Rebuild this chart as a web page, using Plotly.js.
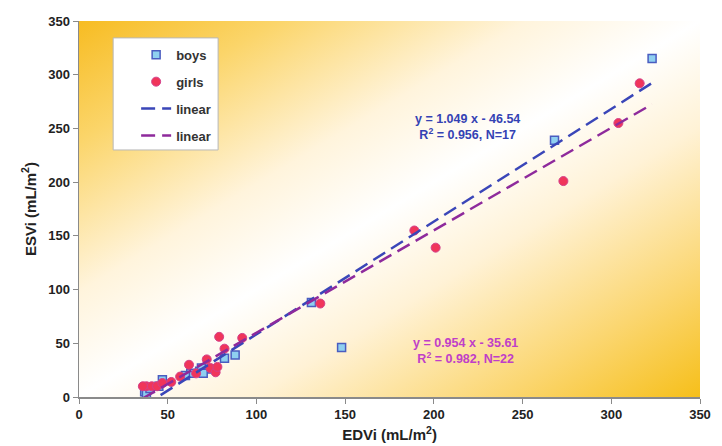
<!DOCTYPE html>
<html>
<head>
<meta charset="utf-8">
<script src="https://cdn.plot.ly/plotly-3.0.1.min.js"></script>
<style>
  html, body { margin: 0; padding: 0; background: #ffffff; }
  #chart { width: 722px; height: 446px; }
</style>
</head>
<body>
<div id="chart"></div>
<script>
// End-diastolic vs end-systolic volume index, boys and girls
const boysEDVi = [323, 268, 148, 131, 88, 82, 47, 37, 38, 40, 68, 69, 70, 63, 75, 60, 45];
const boysESVi = [315, 239, 46, 88, 39, 36, 16, 5, 3, 8, 24, 27, 22, 22, 26, 20, 10];

const girlsEDVi = [316, 304, 273, 201, 189, 136, 92, 79, 82, 38, 41, 44, 47, 52, 57, 62, 72, 74, 77, 78, 66, 36];
const girlsESVi = [292, 255, 201, 139, 155, 87, 55, 56, 45, 10, 10, 10, 13, 14, 19, 30, 35, 27, 23, 28, 22, 10];

// Linear fits: [slope, intercept, R², N]
const boysFit = [1.049, -46.54, 0.956, 17];
const girlsFit = [0.954, -35.61, 0.982, 22];

const axisTicks = [0, 50, 100, 150, 200, 250, 300, 350];

// Fitted lines span the observed EDVi range
const allX = boysEDVi.concat(girlsEDVi);
const xMin = Math.min(...allX);
const xMax = Math.max(...allX);
function fitLine(fit) {
  const xs = [xMin, xMax];
  return { x: xs, y: xs.map(v => fit[0] * v + fit[1]) };
}
const boysLine = fitLine(boysFit);
const girlsLine = fitLine(girlsFit);

function fmtEq(fit) {
  const sign = fit[1] < 0 ? '-' : '+';
  return 'y = ' + fit[0].toFixed(3) + ' x ' + sign + ' ' + Math.abs(fit[1]).toFixed(2) +
         '<br>R<sup>2</sup> = ' + fit[2].toFixed(3) + ', N=' + fit[3];
}

const BLUE = '#3a46b8';
const PURPLE = '#8e2a9c';

const traces = [
  {
    type: 'scatter', mode: 'markers', name: 'boys', legendgroup: 'a',
    x: boysEDVi, y: boysESVi,
    marker: { symbol: 'square', size: 8, color: '#8fd0f0', line: { color: '#4a5cc0', width: 1.5 } },
    cliponaxis: false
  },
  {
    type: 'scatter', mode: 'markers', name: 'girls', legendgroup: 'b',
    x: girlsEDVi, y: girlsESVi,
    marker: { symbol: 'circle', size: 9, color: '#f0355a', line: { color: '#d4408a', width: 1 } },
    cliponaxis: false
  },
  {
    type: 'scatter', mode: 'lines', name: 'linear', legendgroup: 'c',
    x: boysLine.x, y: boysLine.y,
    line: { color: BLUE, width: 2.5, dash: '14px,7px' }
  },
  {
    type: 'scatter', mode: 'lines', name: 'linear', legendgroup: 'd',
    x: girlsLine.x, y: girlsLine.y,
    line: { color: PURPLE, width: 2.5, dash: '14px,7px' }
  }
];

// Diagonal gold-white-gold backdrop for the plotting area
const bgSvg =
  '<svg xmlns="http://www.w3.org/2000/svg" width="621" height="376" viewBox="0 0 100 100" preserveAspectRatio="none">' +
  '<defs><linearGradient id="g" x1="0" y1="0" x2="1" y2="1">' +
  '<stop offset="0" stop-color="#f7bc22"/>' +
  '<stop offset="0.16" stop-color="#fbd56a"/>' +
  '<stop offset="0.36" stop-color="#fff4dc"/>' +
  '<stop offset="0.5" stop-color="#ffffff"/>' +
  '<stop offset="0.64" stop-color="#fff2d6"/>' +
  '<stop offset="0.84" stop-color="#fbd670"/>' +
  '<stop offset="1" stop-color="#f6bf1a"/>' +
  '</linearGradient></defs>' +
  '<rect x="0" y="0" width="100" height="100" fill="url(#g)"/></svg>';
const bgSrc = 'data:image/svg+xml;charset=utf-8,' + encodeURIComponent(bgSvg);

const axisFont = { family: 'Liberation Sans, Arial, sans-serif', size: 13, color: '#222222', weight: 'bold' };
const titleFont = { family: 'Liberation Sans, Arial, sans-serif', size: 15, color: '#222222', weight: 'bold' };

const layout = {
  width: 722, height: 446,
  margin: { l: 79, r: 22, t: 21, b: 49, pad: 0 },
  paper_bgcolor: '#ffffff',
  plot_bgcolor: 'rgba(0,0,0,0)',
  showlegend: true,
  xaxis: {
    range: [0, 350], tickvals: axisTicks, ticktext: axisTicks.map(String),
    showgrid: false, zeroline: false,
    showline: true, linecolor: '#8a8a8a', linewidth: 1.5,
    ticks: 'outside', ticklen: 5, tickcolor: '#8a8a8a', tickwidth: 1,
    tickfont: axisFont,
    title: { text: 'EDVi (mL/m<sup>2</sup>)', font: titleFont, standoff: 8 },
    automargin: false
  },
  yaxis: {
    range: [0, 350], tickvals: axisTicks, ticktext: axisTicks.map(String),
    showgrid: false, zeroline: false,
    showline: true, linecolor: '#8a8a8a', linewidth: 1.5,
    ticks: 'outside', ticklen: 5, tickcolor: '#8a8a8a', tickwidth: 1,
    tickfont: axisFont,
    title: { text: 'ESVi (mL/m<sup>2</sup>)', font: titleFont, standoff: 8 },
    automargin: false
  },
  images: [{
    source: bgSrc, xref: 'paper', yref: 'paper',
    x: 0, y: 1, sizex: 1, sizey: 1, sizing: 'stretch',
    xanchor: 'left', yanchor: 'top', layer: 'below'
  }],
  shapes: [{
    type: 'rect', xref: 'paper', yref: 'paper',
    x0: 0.055, x1: 0.224, y0: 0.657, y1: 0.955,
    fillcolor: '#ffffff', line: { color: '#b8b8b8', width: 1 }, layer: 'below'
  }],
  legend: {
    x: 0.092, y: 0.95, xanchor: 'left', yanchor: 'top',
    bgcolor: 'rgba(0,0,0,0)', borderwidth: 0,
    traceorder: 'grouped', tracegroupgap: 7,
    font: { family: 'Liberation Sans, Arial, sans-serif', size: 13, color: '#333333', weight: 'bold' }
  },
  annotations: [
    {
      x: 219, y: 251, xref: 'x', yref: 'y', showarrow: false,
      text: fmtEq(boysFit), align: 'center',
      font: { family: 'Liberation Sans, Arial, sans-serif', size: 12.5, color: '#3442b4', weight: 'bold' }
    },
    {
      x: 218, y: 43, xref: 'x', yref: 'y', showarrow: false,
      text: fmtEq(girlsFit), align: 'center',
      font: { family: 'Liberation Sans, Arial, sans-serif', size: 12.5, color: '#c03ec8', weight: 'bold' }
    }
  ]
};

Plotly.newPlot('chart', traces, layout, { displayModeBar: false, staticPlot: true });
</script>
</body>
</html>
